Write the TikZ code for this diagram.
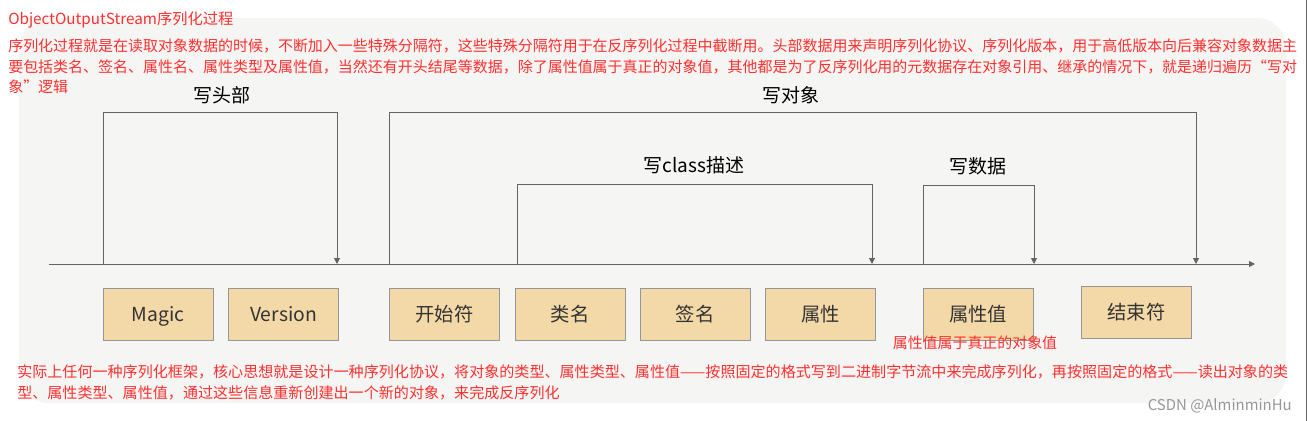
\documentclass[tikz,border=0pt]{standalone}
\usepackage{fontspec}
\setmainfont{Noto Sans CJK SC}
\usetikzlibrary{arrows.meta}
\definecolor{redtxt}{RGB}{255,48,48}
\definecolor{bggray}{RGB}{245,245,243}
\definecolor{boxfill}{RGB}{244,217,168}
\definecolor{boxline}{RGB}{150,150,150}
\definecolor{linegray}{RGB}{100,100,100}
\definecolor{boxtext}{RGB}{51,51,51}
\definecolor{marktxt}{RGB}{150,150,150}
\begin{document}
\begin{tikzpicture}[x=0.75pt,y=-0.75pt,
  redline/.style={anchor=west,inner sep=0pt,text=redtxt,font=\fontsize{11.24pt}{13pt}\selectfont},
  redlow/.style={redline,font=\fontsize{11.3pt}{13pt}\selectfont},
  lbl/.style={inner sep=0pt,text=black,font=\fontsize{14.25pt}{16pt}\selectfont},
  field/.style={draw=boxline,fill=boxfill,line width=0.75pt,minimum width=82.5pt,minimum height=39pt,inner sep=0pt,text height=12pt,text depth=1.2pt,text=boxtext,font=\fontsize{14.5pt}{16pt}\selectfont},
  conn/.style={draw=linegray,line width=0.75pt},
  tip/.style={-{Triangle[length=4.5pt,width=4.5pt]}}
]
\useasboundingbox (0,0) rectangle (1307,421);
\fill[white] (0,0) rectangle (1307,421);
\fill[bggray,rounded corners=22pt] (19,18) rectangle (1286,403);
\draw[linegray,line width=0.6pt] (1306.5,0) -- (1306.5,421);

% red texts at top
\node[redline,font=\fontsize{11.45pt}{13pt}\selectfont] (title) at (8,20) {ObjectOutputStream序列化过程};
\node[redline] (p1) at (8,46) {序列化过程就是在读取对象数据的时候，不断加入一些特殊分隔符，这些特殊分隔符用于在反序列化过程中截断用。头部数据用来声明序列化协议、序列化版本，用于高低版本向后兼容对象数据主};
\node[redline] (p2) at (8,67) {要包括类名、签名、属性名、属性类型及属性值，当然还有开头结尾等数据，除了属性值属于真正的对象值，其他都是为了反序列化用的元数据存在对象引用、继承的情况下，就是递归遍历“写对};
\node[redline] (p3) at (8,87) {象”逻辑};

% axis
\coordinate (axs) at (49,264);
\coordinate (axe) at (1255,264);
\draw[conn,tip] (axs) -- (axe);

% brackets
\coordinate (h1) at (103,264);
\coordinate (h2) at (337,264);
\coordinate (o1) at (389,264);
\coordinate (o2) at (1196,264);
\coordinate (c1) at (517,264);
\coordinate (c2) at (872,264);
\coordinate (d1) at (923,264);
\coordinate (d2) at (1034,264);
\draw[conn,tip] (h1) -- ++(0,-152) -| (h2);
\draw[conn,tip] (o1) -- ++(0,-152) -| (o2);
\draw[conn,tip] (c1) -- ++(0,-80) -| (c2);
\draw[conn,tip] (d1) -- ++(0,-79) -| (d2);

\node[lbl] (lh) at (222,95) {写头部};
\node[lbl] (lo) at (791,95) {写对象};
\node[lbl] (lc) at (694,165) {写class描述};
\node[lbl] (ld) at (978,166) {写数据};

% fields
\node[field] (magic) at (158,314) {Magic};
\node[field] (version) at (283.5,314) {Version};
\node[field] (start) at (444.5,314) {开始符};
\node[field] (cls) at (570,314) {类名};
\node[field] (sig) at (695,314) {签名};
\node[field] (attr) at (820.5,314) {属性};
\node[field] (val) at (978,314) {属性值};
\node[field] (end) at (1136.5,312) {结束符};

\node[inner sep=0pt,text=redtxt,font=\fontsize{11.2pt}{13pt}\selectfont] (note) at (975,343) {属性值属于真正的对象值};

% bottom red texts
\node[redlow] (b1) at (17,372) {实际上任何一种序列化框架，核心思想就是设计一种序列化协议，将对象的类型、属性类型、属性值——按照固定的格式写到二进制字节流中来完成序列化，再按照固定的格式——读出对象的类};
\node[redlow] (b2) at (17,393) {型、属性类型、属性值，通过这些信息重新创建出一个新的对象，来完成反序列化};

\node[anchor=east,inner sep=0pt,text=marktxt,font=\fontsize{11.2pt}{12pt}\selectfont] (mark) at (1292,406) {CSDN @AlminminHu};
\end{tikzpicture}
\end{document}
